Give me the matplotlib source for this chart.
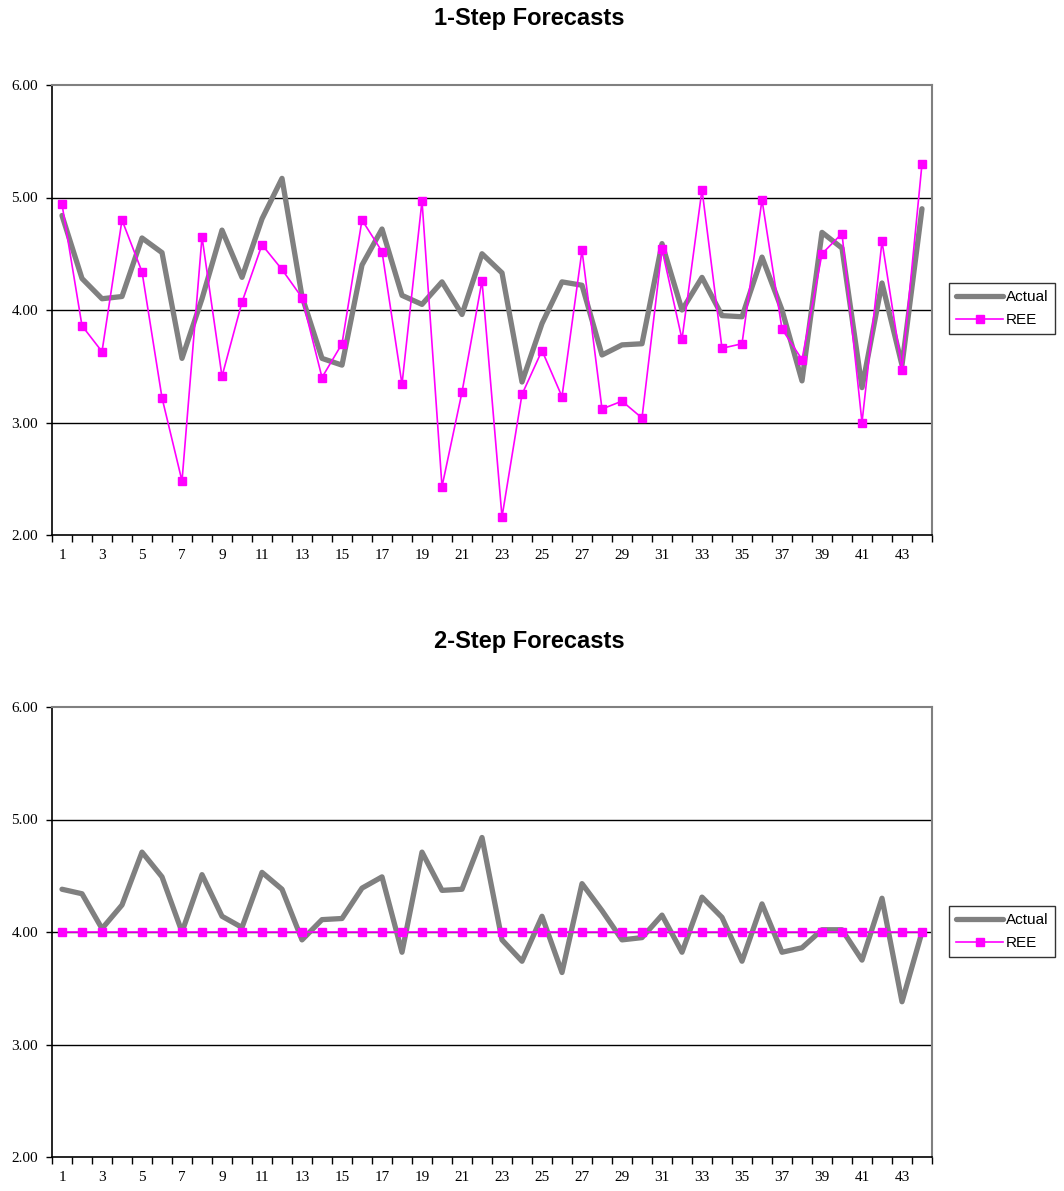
import matplotlib
matplotlib.use("Agg")
import matplotlib.pyplot as plt
from matplotlib.ticker import FixedLocator, NullFormatter, FixedFormatter

periods = list(range(1, 45))

actual_1 = [4.84, 4.28, 4.10, 4.12, 4.64, 4.51, 3.57, 4.10, 4.71, 4.29,
            4.81, 5.17, 4.12, 3.57, 3.51, 4.40, 4.72, 4.13, 4.05, 4.25,
            3.96, 4.50, 4.33, 3.36, 3.88, 4.25, 4.22, 3.60, 3.69, 3.70,
            4.59, 4.00, 4.29, 3.95, 3.94, 4.47, 4.00, 3.37, 4.69, 4.55,
            3.31, 4.24, 3.51, 4.90]
ree_1 = [4.94, 3.86, 3.63, 4.80, 4.34, 3.22, 2.48, 4.65, 3.41, 4.07,
         4.58, 4.36, 4.11, 3.40, 3.70, 4.80, 4.52, 3.34, 4.97, 2.43,
         3.27, 4.26, 2.16, 3.25, 3.64, 3.23, 4.53, 3.12, 3.19, 3.04,
         4.54, 3.74, 5.07, 3.66, 3.70, 4.98, 3.83, 3.56, 4.50, 4.68,
         3.00, 4.61, 3.47, 5.30]

actual_2 = [4.38, 4.34, 4.03, 4.24, 4.71, 4.49, 4.00, 4.51, 4.14, 4.04,
            4.53, 4.38, 3.93, 4.11, 4.12, 4.39, 4.49, 3.82, 4.71, 4.37,
            4.38, 4.84, 3.93, 3.74, 4.14, 3.64, 4.43, 4.19, 3.93, 3.95,
            4.15, 3.82, 4.31, 4.13, 3.74, 4.25, 3.82, 3.86, 4.02, 4.02,
            3.75, 4.30, 3.38, 4.00]
ree_2 = [4.00] * 44

titles = ["1-Step Forecasts", "2-Step Forecasts"]
y_ticks = [2.0, 3.0, 4.0, 5.0, 6.0]
y_labels = ["2.00", "3.00", "4.00", "5.00", "6.00"]
x_label_pos = list(range(1, 45, 2))
x_labels = [str(v) for v in x_label_pos]

W, H = 1064, 1191
fig = plt.figure(figsize=(W / 100, H / 100), dpi=100)
fig.patch.set_facecolor("white")

GRAY = "#808080"
MAG = "#FF00FF"

panels = [
    (actual_1, ree_1, 85, 535, 19, 283),
    (actual_2, ree_2, 707, 1157, 641, 906),
]

for i, (act, ree, top, bot, title_y, leg_top) in enumerate(panels):
    left, right = 52, 932
    ax = fig.add_axes([left / W, 1 - bot / H, (right - left) / W, (bot - top) / H])
    ax.set_xlim(0.5, 44.5)
    ax.set_ylim(2.0, 6.0)

    for yv in [3.0, 4.0, 5.0]:
        ax.axhline(yv, color="black", lw=1.0, zorder=1)

    ax.plot(periods, act, color=GRAY, lw=3.8, solid_joinstyle="round",
            solid_capstyle="round", label="Actual", zorder=2)
    ax.plot(periods, ree, color=MAG, lw=1.2, marker="s", markersize=5.5,
            markeredgecolor=MAG, markerfacecolor=MAG, label="REE", zorder=3)

    ax.spines["top"].set_color(GRAY)
    ax.spines["right"].set_color(GRAY)
    ax.spines["top"].set_linewidth(1.5)
    ax.spines["right"].set_linewidth(1.5)
    ax.spines["left"].set_color("black")
    ax.spines["bottom"].set_color("black")
    ax.spines["left"].set_linewidth(1.2)
    ax.spines["bottom"].set_linewidth(1.2)

    ax.yaxis.set_major_locator(FixedLocator(y_ticks))
    ax.yaxis.set_major_formatter(FixedFormatter(y_labels))
    ax.tick_params(axis="y", direction="out", length=4, width=1, pad=6,
                   labelsize=11)

    ax.xaxis.set_major_locator(FixedLocator([k + 0.5 for k in range(0, 45)]))
    ax.xaxis.set_major_formatter(NullFormatter())
    ax.xaxis.set_minor_locator(FixedLocator(x_label_pos))
    ax.xaxis.set_minor_formatter(FixedFormatter(x_labels))
    ax.tick_params(axis="x", which="major", direction="out", length=5, width=1)
    ax.tick_params(axis="x", which="minor", length=0, pad=10, labelsize=11)

    for lab in ax.get_xticklabels(minor=True) + ax.get_yticklabels():
        lab.set_fontfamily("Liberation Serif")

    fig.text(529 / W, 1 - title_y / H, titles[i], ha="center", va="center",
             fontsize=17, fontweight="bold", family="Liberation Sans")

    leg = ax.legend(loc="upper left",
                    bbox_to_anchor=(949 / W, 1 - leg_top / H),
                    bbox_transform=fig.transFigure,
                    frameon=True, fancybox=False, shadow=False,
                    prop={"family": "Liberation Sans", "size": 11},
                    handlelength=3.1, handletextpad=0.15, borderpad=0.45,
                    labelspacing=0.6, borderaxespad=0)
    leg.get_frame().set_edgecolor("black")
    leg.get_frame().set_linewidth(1.0)

fig.savefig("out.png", dpi=100, facecolor="white")
